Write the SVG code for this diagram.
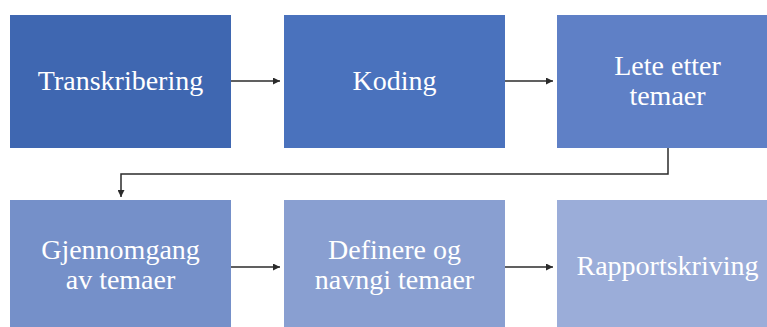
<svg xmlns="http://www.w3.org/2000/svg" width="767" height="327" viewBox="0 0 767 327">
<defs>
<marker id="ah" viewBox="0 0 10 10" refX="10" refY="5" markerWidth="7" markerHeight="7" markerUnits="userSpaceOnUse" orient="auto">
<path d="M0,0 L10,5 L0,10 Z" fill="#2b2b2b"/>
</marker>
</defs>
<rect width="767" height="327" fill="#ffffff"/>
<g font-family="Liberation Serif" font-size="28" fill="#ffffff" text-anchor="middle">
<g id="n1"><rect x="10" y="15" width="221" height="133" fill="#3f67b1"/><text x="120.5" y="90">Transkribering</text></g>
<g id="n2"><rect x="284" y="15" width="221" height="133" fill="#4a72bd"/><text x="394.5" y="90">Koding</text></g>
<g id="n3"><rect x="557" y="15" width="221" height="133" fill="#5f80c6"/><text x="667.5" y="75">Lete etter</text><text x="667.5" y="105">temaer</text></g>
<g id="n4"><rect x="10" y="200" width="221" height="133" fill="#7590c9"/><text x="120.5" y="259">Gjennomgang</text><text x="120.5" y="289">av temaer</text></g>
<g id="n5"><rect x="284" y="200" width="221" height="133" fill="#899fd1"/><text x="394.5" y="259">Definere og</text><text x="394.5" y="289">navngi temaer</text></g>
<g id="n6"><rect x="557" y="200" width="221" height="133" fill="#9badd9"/><text x="667.5" y="275">Rapportskriving</text></g>
</g>
<g id="connectors" fill="none" stroke="#2b2b2b" stroke-width="1.5">
<line x1="231" y1="81" x2="280" y2="81" marker-end="url(#ah)"/>
<line x1="505" y1="81" x2="553" y2="81" marker-end="url(#ah)"/>
<polyline points="668,148 668,174 121,174 121,197" marker-end="url(#ah)"/>
<line x1="231" y1="267" x2="280" y2="267" marker-end="url(#ah)"/>
<line x1="505" y1="267" x2="553" y2="267" marker-end="url(#ah)"/>
</g>
</svg>
